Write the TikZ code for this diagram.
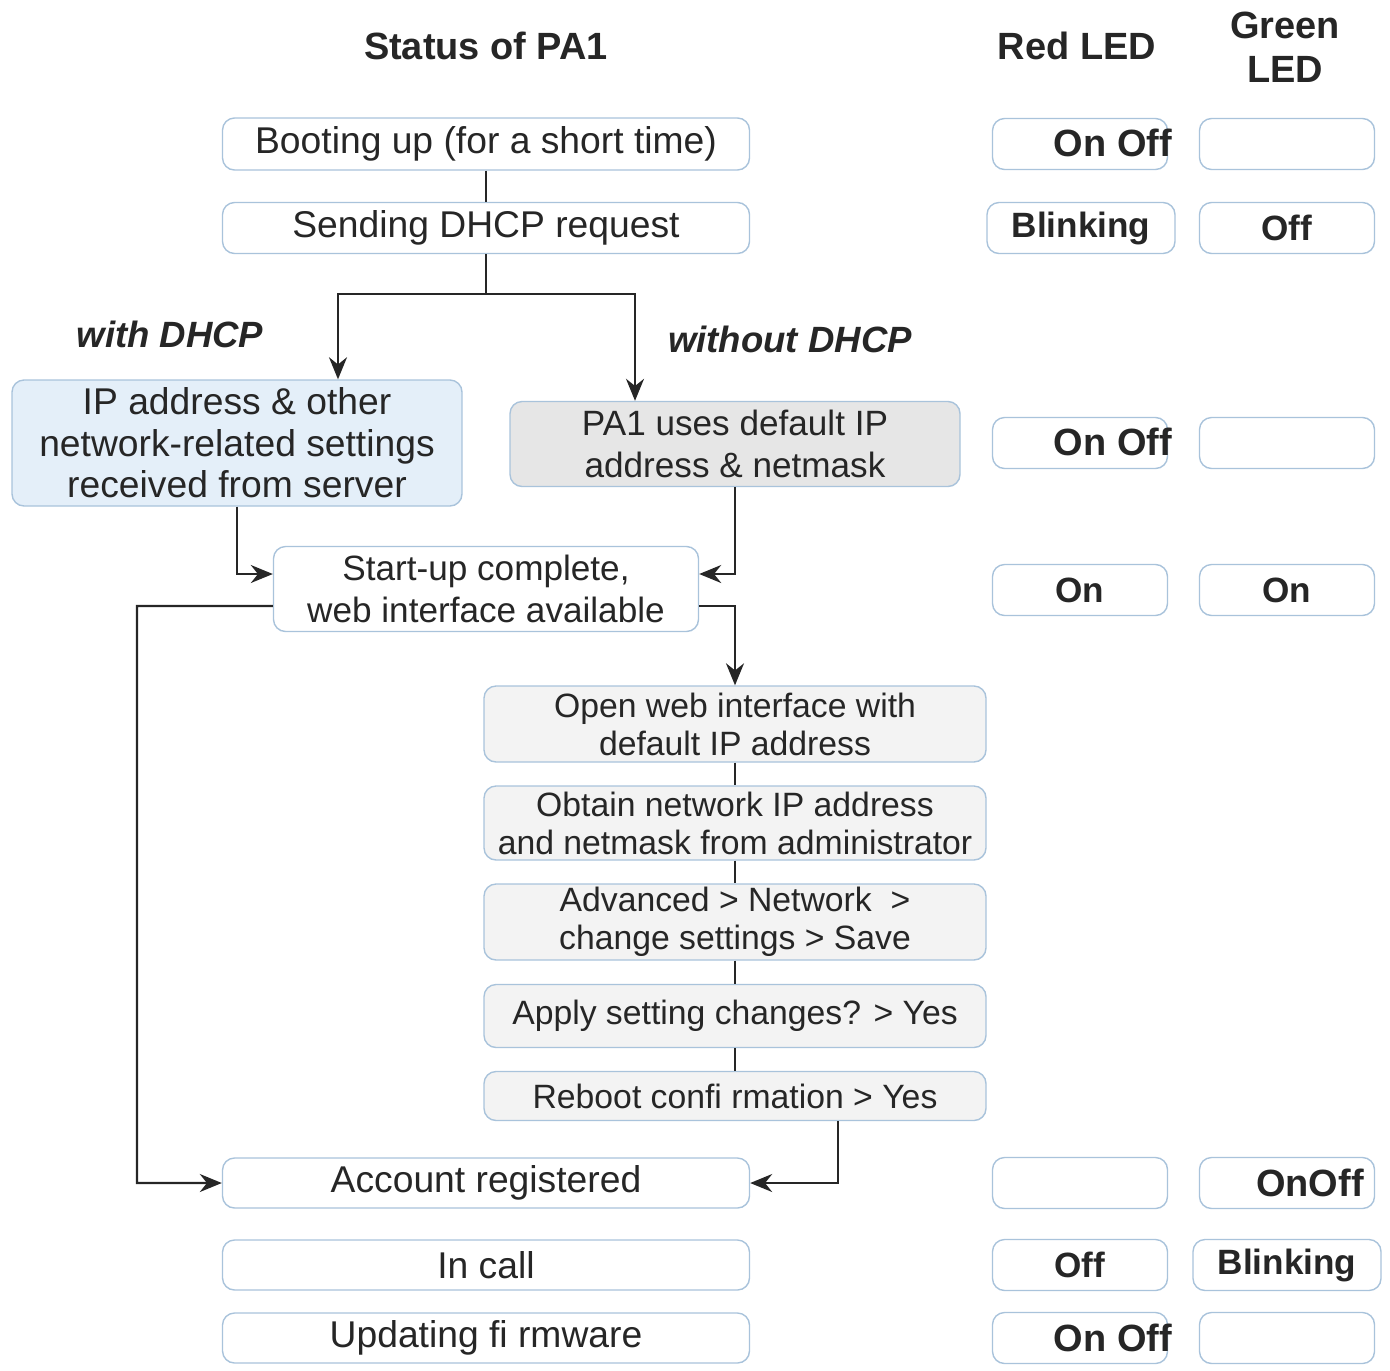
\documentclass[tikz,border=0pt]{standalone}
\usepackage{fontspec}
\setmainfont{Liberation Sans}
\usetikzlibrary{arrows.meta}
\definecolor{bd}{HTML}{A9C3DB}
\definecolor{bluef}{HTML}{E4EFF9}
\definecolor{grayf}{HTML}{E6E6E6}
\definecolor{lightf}{HTML}{F3F3F3}
\definecolor{ln}{HTML}{262626}
\begin{document}
\begin{tikzpicture}[x=0.05cm,y=-0.05cm,
  box/.style={draw=bd,line width=2pt,rounded corners=0.6cm,fill=white,inner sep=0pt,align=center,
    font=\fontsize{53}{59}\selectfont,text=ln},
  sbox/.style={box,fill=lightf,minimum width=25.1cm,font=\fontsize{48}{54}\selectfont},
  led/.style={box,minimum width=8.75cm,minimum height=2.55cm,font=\fontsize{50}{56}\selectfont\bfseries},
  head/.style={font=\fontsize{54}{62}\selectfont\bfseries,text=ln,align=center},
  lbl/.style={font=\fontsize{52}{58}\selectfont\bfseries\itshape,text=ln},
  ln/.style={draw=ln,line width=3pt},
  arr/.style={ln,-{Stealth[length=1.1cm,width=0.9cm]}}]
\useasboundingbox (0,0) rectangle (1390,1370);
\node[head] (h1) at (486,46) {Status of PA1};
\node[head] (h2) at (1077,46) {Red LED};
\node[head] (h3) at (1285,47) {Green\\LED};
\node[lbl] (l1) at (170,334) {with DHCP};
\node[lbl] (l2) at (790,339) {without DHCP};
% main boxes
\node[box,minimum width=26.35cm,minimum height=2.6cm] (boot) at (486,144) {Booting up (for a short time)};
\node[box,minimum width=26.35cm,minimum height=2.55cm] (send) at (486,228) {Sending DHCP request};
\node[box,fill=bluef,minimum width=22.5cm,minimum height=6.3cm] (ip) at (237,443) {IP address \& other\\network-related settings\\received from server};
\node[box,fill=grayf,minimum width=22.5cm,minimum height=4.25cm,font=\fontsize{50}{59}\selectfont] (pa) at (735,444) {PA1 uses default IP\\address \& netmask};
\node[box,minimum width=21.25cm,minimum height=4.25cm,font=\fontsize{50}{59}\selectfont] (start) at (486,589) {Start-up complete,\\web interface available};
\node[sbox,minimum height=3.8cm] (open) at (735,724) {Open web interface with\\default IP address};
\node[sbox,minimum height=3.7cm] (obt) at (735,823) {Obtain network IP address\\and netmask from administrator};
\node[sbox,minimum height=3.8cm] (adv) at (735,922) {Advanced > Network\ \ >\\change settings > Save};
\node[sbox,minimum height=3.15cm] (app) at (735,1016) {Apply setting changes? > Yes};
\node[sbox,minimum height=2.45cm] (reb) at (735,1096) {Reboot confi rmation > Yes};
\node[box,minimum width=26.35cm,minimum height=2.5cm] (acc) at (486,1183) {Account registered};
\node[box,minimum width=26.35cm,minimum height=2.5cm] (call) at (486,1265) {In call};
\node[box,minimum width=26.35cm,minimum height=2.5cm] (upd) at (486,1338) {Updating fi rmware};
% LED boxes
\node[led] (r1) at (1080,144) {};
\node[head] (r1t) at (1113,143) {On Off};
\node[led] (g1) at (1287,144) {};
\node[led,minimum width=9.4cm] (r2) at (1081,228) {Blinking};
\node[led] (g2) at (1287,228) {Off};
\node[led] (r3) at (1080,443) {};
\node[head] (r3t) at (1113,442) {On Off};
\node[led] (g3) at (1287,443) {};
\node[led] (r4) at (1080,590) {On};
\node[led] (g4) at (1287,590) {On};
\node[led] (r5) at (1080,1183) {};
\node[led] (g5) at (1287,1183) {};
\node[head] (g5t) at (1310,1183) {OnOff};
\node[led] (r6) at (1080,1265) {Off};
\node[led,minimum width=9.4cm] (g6) at (1287,1265) {Blinking};
\node[led] (r7) at (1080,1338) {};
\node[head] (r7t) at (1113,1338) {On Off};
\node[led] (g7) at (1287,1338) {};
% connectors
\draw[ln] (boot.south) -- (send.north);
\draw[arr] (send.south) -- ++(0,40) -| ([xshift=5.05cm]ip.north);
\draw[arr] (send.south) -- ++(0,40) -| ([xshift=-5cm]pa.north);
\draw[arr] (ip.south) |- ([yshift=0.75cm]start.west);
\draw[arr] (pa.south) |- ([yshift=0.75cm]start.east);
\draw[arr] ([yshift=-0.85cm]start.east) -| (open.north);
\draw[arr] ([yshift=-0.85cm]start.west) -- (137,606) |- (acc.west);
\draw[ln] (open.south) -- (obt.north);
\draw[ln] (obt.south) -- (adv.north);
\draw[ln] (adv.south) -- (app.north);
\draw[ln] (app.south) -- (reb.north);
\draw[arr] ([xshift=5.15cm]reb.south) |- (acc.east);
\end{tikzpicture}
\end{document}
